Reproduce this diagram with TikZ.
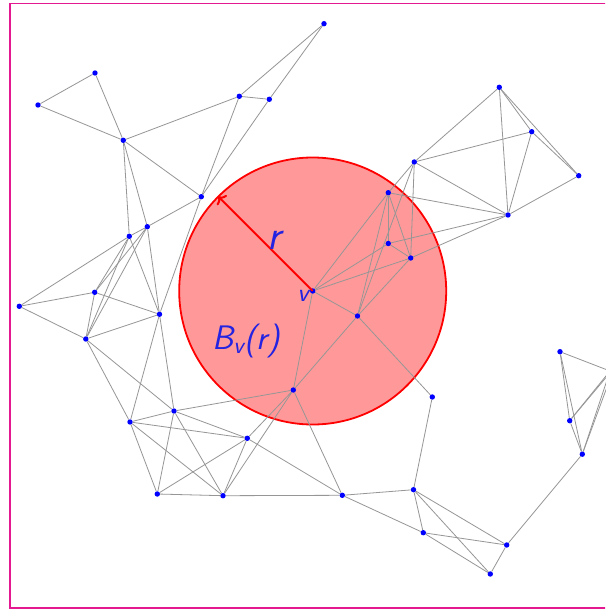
\documentclass[tikz,border=0pt]{standalone}
\usetikzlibrary{arrows.meta}
\definecolor{framec}{RGB}{228,25,145}
\definecolor{edgec}{RGB}{150,150,150}
\definecolor{ballfill}{RGB}{255,153,153}
\definecolor{ballline}{RGB}{255,0,0}
\definecolor{labc}{RGB}{35,35,225}
\pgfdeclarelayer{back}
\pgfdeclarelayer{mid}
\pgfsetlayers{back,mid,main}
\tikzset{
  dot/.style={circle,fill=blue,draw=none,inner sep=0pt,minimum size=5.4pt},
  edge/.style={draw=edgec,line width=0.8pt},
  lbl/.style={text=labc,inner sep=0pt,font=\sffamily\slshape},
}
\begin{document}
\begin{tikzpicture}[x=1pt,y=-1pt]
\useasboundingbox (0,0) rectangle (605,610);
\clip (0,0) rectangle (605,610);
% nodes
\node[dot] (A) at (324,23.7) {};
\node[dot] (B) at (95,73) {};
\node[dot] (C) at (38,105) {};
\node[dot] (D) at (123.3,140.3) {};
\node[dot] (E) at (239.3,96.3) {};
\node[dot] (F) at (269.3,99.3) {};
\node[dot] (G) at (201.3,196.7) {};
\node[dot] (H) at (147.3,226.7) {};
\node[dot] (I) at (129.3,236.3) {};
\node[dot] (J) at (19.3,306.3) {};
\node[dot] (K) at (94.7,292.3) {};
\node[dot] (L) at (159.5,314.3) {};
\node[dot] (M) at (85.8,339) {};
\node[dot] (N) at (499.3,87.3) {};
\node[dot] (O) at (531.7,131.7) {};
\node[dot] (P) at (578.7,175.7) {};
\node[dot] (Q) at (414.3,162) {};
\node[dot] (R) at (508,215) {};
\node[dot] (S) at (388.3,192.7) {};
\node[dot] (T) at (388.3,243.5) {};
\node[dot] (U) at (410.7,258) {};
\node[dot] (v) at (312.7,291) {};
\node[dot] (W) at (357.5,316) {};
\node[dot] (X) at (432.3,397) {};
\node[dot] (Y) at (342.3,495.3) {};
\node[dot] (Z) at (413.5,489.7) {};
\node[dot] (AA) at (423.3,532.7) {};
\node[dot] (AB) at (506.7,545) {};
\node[dot] (AC) at (490.3,574) {};
\node[dot] (AD) at (560,351.7) {};
\node[dot] (AE) at (569.7,420.7) {};
\node[dot] (AF) at (582.3,454.2) {};
\node[dot] (BB) at (293.3,390) {};
\node[dot] (BC) at (174,411) {};
\node[dot] (BD) at (130,422) {};
\node[dot] (BE) at (247.3,438.3) {};
\node[dot] (BF) at (157.3,494) {};
\node[dot] (BG) at (223,495.7) {};
\node[dot] (O1) at (610,371) {};
\node[dot] (O2) at (614,368) {};
% ball
\begin{pgfonlayer}{back}
\fill[white] (0,0) rectangle (605,610);
\draw[ballline,fill=ballfill,line width=1.8pt] (v.center) circle[radius=133.5];
\end{pgfonlayer}
% edges
\begin{pgfonlayer}{mid}
\foreach \a/\b in {C/B,C/D,B/D,D/E,D/G,D/I,D/H,E/F,E/A,F/A,E/G,F/G,G/H,H/I,G/L,
  J/I,J/K,J/M,K/L,M/L,K/I,K/H,M/I,M/H,K/M,I/L,H/L,L/BD,L/BC,M/BD,M/BC,
  BD/BC,BD/BE,BD/BF,BD/BG,BC/BE,BC/BF,BC/BG,BC/BB,BE/BF,BE/BG,BE/BB,BE/Y,
  BF/BG,BG/Y,BG/BB,BB/Y,BB/v,BB/W,v/W,v/S,v/T,v/U,W/U,W/S,W/Q,W/X,X/Z,
  Y/Z,Y/AA,Z/AA,Z/AB,Z/AC,AA/AB,AA/AC,AB/AC,AB/AF,AD/AE,AD/AF,AE/AF,
  AD/O1,AE/O1,AE/O2,AF/O1,AF/O2,N/Q,N/O,N/P,N/R,O/P,O/Q,O/R,P/R,Q/R,Q/S,
  Q/U,S/T,S/U,S/R,T/U,T/R,U/R}
  \draw[edge] (\a) -- (\b);
\end{pgfonlayer}
% radius
\coordinate (tip) at (218.3,196.6);
\draw[ballline,line width=2pt,-{To[length=6pt,width=14pt]}] (v.center) -- (tip);
% labels
\node[lbl,font=\sffamily\slshape\fontsize{42}{46}\selectfont] (rlab) at (274,240) {r};
\node[lbl,font=\sffamily\slshape\fontsize{26}{30}\selectfont] (vlab) at (303,295.5) {v};
\node[lbl,font=\sffamily\slshape\fontsize{34}{38}\selectfont] (blab) at (246,341) {B\textsubscript{v}(r)};
% frame
\draw[framec,line width=1.8pt] (10.3,3.5) rectangle (620,607.6);
\end{tikzpicture}
\end{document}
